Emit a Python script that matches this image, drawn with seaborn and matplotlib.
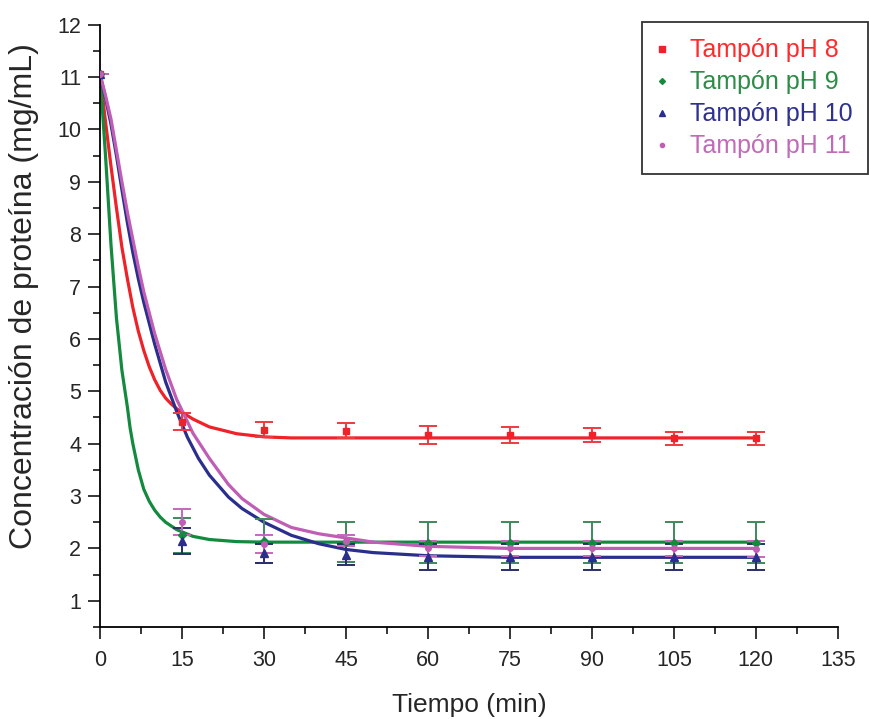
import pandas as pd
import matplotlib
matplotlib.use("Agg")
import matplotlib.pyplot as plt
import seaborn as sns
from matplotlib.lines import Line2D
from matplotlib.ticker import MultipleLocator

# measured points
times = [0, 15, 30, 45, 60, 75, 90, 105, 120]

ph8_mean = [11.05, 4.42, 4.27, 4.25, 4.17, 4.16, 4.16, 4.10, 4.10]
ph8_err = [0.0, 0.16, 0.15, 0.14, 0.17, 0.15, 0.13, 0.13, 0.13]

ph9_mean = [11.05, 2.25, 2.15, 2.12, 2.11, 2.11, 2.11, 2.11, 2.11]
ph9_err = [0.0, 0.34, 0.42, 0.38, 0.39, 0.39, 0.39, 0.39, 0.39]

ph10_mean = [11.05, 2.14, 1.91, 1.88, 1.84, 1.83, 1.83, 1.83, 1.83]
ph10_err = [0.0, 0.25, 0.18, 0.20, 0.25, 0.25, 0.25, 0.25, 0.25]

ph11_mean = [11.05, 2.50, 2.08, 2.15, 2.00, 2.00, 2.00, 2.00, 1.99]
ph11_err = [0.0, 0.25, 0.17, 0.10, 0.15, 0.15, 0.15, 0.15, 0.15]

# fitted curves
fit_t_ph8 = [0, 1, 2, 3, 4, 5, 6, 7, 8, 9, 10, 11, 12, 13, 14, 15, 17, 20,
             25, 30, 35, 120]
fit_ph8 = [11.05, 10.15, 9.3, 8.5, 7.75, 7.15, 6.6, 6.15, 5.78, 5.47, 5.22,
           5.02, 4.87, 4.76, 4.67, 4.6, 4.47, 4.32, 4.19, 4.13, 4.11, 4.11]

fit_t_ph9 = [0, 1, 2, 3, 4, 5, 5.5, 6, 7, 8, 9, 10, 11, 12, 14, 17, 20, 25,
             30, 120]
fit_ph9 = [11.05, 9.5, 7.8, 6.4, 5.4, 4.7, 4.3, 4.0, 3.5, 3.13, 2.9, 2.73,
           2.6, 2.5, 2.36, 2.23, 2.17, 2.13, 2.12, 2.12]

fit_t_ph10 = [0, 1, 2, 3, 4, 5, 6, 7, 8, 10, 12, 14, 16, 18, 20, 23.5, 26,
              30, 35, 40, 45, 50, 60, 75, 120]
fit_ph10 = [11.05, 10.6, 10.1, 9.5, 8.85, 8.22, 7.65, 7.15, 6.7, 5.9, 5.18,
            4.62, 4.12, 3.72, 3.4, 2.98, 2.76, 2.5, 2.25, 2.09, 1.98, 1.92,
            1.86, 1.83, 1.83]

fit_t_ph11 = [0, 1, 2, 3, 4, 5, 6, 7, 8, 10, 12, 14, 17, 20, 23.5, 26, 30,
              35, 40, 45, 50, 60, 75, 120]
fit_ph11 = [11.05, 10.65, 10.2, 9.6, 9.0, 8.42, 7.9, 7.38, 6.9, 6.1, 5.42,
            4.85, 4.2, 3.72, 3.22, 2.95, 2.65, 2.4, 2.28, 2.2, 2.12, 2.04,
            2.0, 2.0]

labels = ["Tampón pH 8", "Tampón pH 9", "Tampón pH 10", "Tampón pH 11"]
colors = ["#EE2228", "#138A3E", "#2A2E8C", "#C05DB4"]
bar_colors = ["#EE3A40", "#3D8A5C", "#2A2E6C", "#C766BC"]
text_colors = ["#FF2A2A", "#2C8C48", "#2E3190", "#C06AB8"]
markers = ["s", "D", "^", "o"]
msizes = [5, 4, 6, 4]

sns.set_style("ticks")
plt.rcParams["font.family"] = ["Liberation Sans", "DejaVu Sans"]

fits = pd.concat([
    pd.DataFrame({"t": t, "c": c, "buffer": lab})
    for t, c, lab in zip([fit_t_ph8, fit_t_ph9, fit_t_ph10, fit_t_ph11],
                         [fit_ph8, fit_ph9, fit_ph10, fit_ph11], labels)
])

fig = plt.figure(figsize=(8.7, 7.19), dpi=100)
ax = fig.add_axes([0.115, 0.128, 0.848, 0.8376])

sns.lineplot(data=fits, x="t", y="c", hue="buffer", palette=colors,
             estimator=None, sort=False, linewidth=2.3, legend=False, ax=ax)

means = [ph8_mean, ph9_mean, ph10_mean, ph11_mean]
errs = [ph8_err, ph9_err, ph10_err, ph11_err]
for m, e, col, bcol, mk, ms in zip(means, errs, colors, bar_colors, markers, msizes):
    ax.errorbar(times, m, yerr=e, fmt=mk, color=col, ms=ms, ecolor=bcol,
                elinewidth=1.4, capsize=6.5, capthick=1.4, zorder=3)

ax.set_xlim(0, 135)
ax.set_ylim(0.5, 12)
ax.xaxis.set_major_locator(MultipleLocator(15))
ax.xaxis.set_minor_locator(MultipleLocator(7.5))
ax.yaxis.set_major_locator(MultipleLocator(1))
ax.yaxis.set_minor_locator(MultipleLocator(0.5))
ax.set_yticks(range(1, 13))

ax.tick_params(which="major", length=8.5, width=1.1, labelsize=15.5,
               color="black")
ax.tick_params(which="minor", length=5, width=1.1, color="black")
ax.tick_params(axis="x", pad=8)
ax.tick_params(axis="y", pad=5)
for s in ["left", "bottom"]:
    ax.spines[s].set_linewidth(1.3)
    ax.spines[s].set_color("black")
sns.despine(ax=ax)

ax.set_xlabel("Tiempo (min)", fontsize=19, va="center")
ax.set_ylabel("Concentración de proteína (mg/mL)", fontsize=23, va="center")
ax.xaxis.set_label_coords(0.5, -0.13)
ax.yaxis.set_label_coords(-0.103, 0.55)

handles = [Line2D([], [], linestyle="", marker=mk, color=col, ms=ms - 1)
           for mk, col, ms in zip(markers, colors, msizes)]
leg = ax.legend(handles, labels, loc="upper right",
                bbox_to_anchor=(0.998, 0.969), bbox_transform=fig.transFigure,
                fontsize=18, frameon=True, fancybox=False, handlelength=0.3,
                handletextpad=0.95, labelspacing=0.32, borderpad=0.64,
                borderaxespad=0)
leg.get_frame().set_edgecolor("black")
leg.get_frame().set_linewidth(1.3)
for txt, tc in zip(leg.get_texts(), text_colors):
    txt.set_color(tc)

fig.savefig("out.png", dpi=100)
